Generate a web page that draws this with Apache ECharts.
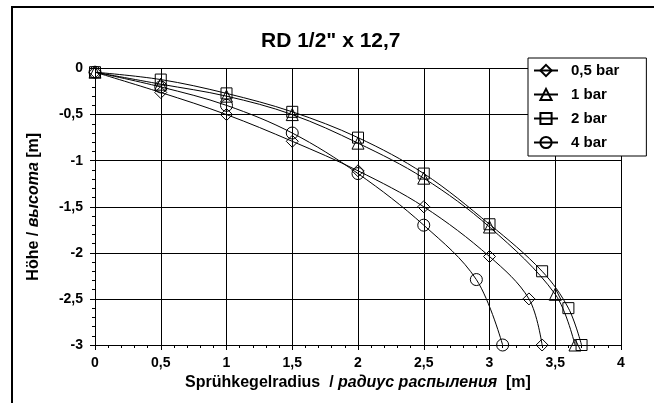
<!DOCTYPE html>
<html>
<head>
<meta charset="utf-8">
<script src="https://cdn.jsdelivr.net/npm/echarts@6/dist/echarts.min.js"></script>
<style>html,body{margin:0;padding:0;background:#fff;}#c{width:654px;height:403px;}</style>
</head>
<body>
<div id="c"></div>
<script>
const titleText = 'RD 1/2" x 12,7';
const seriesNames = ['0,5 bar', '1 bar', '2 bar', '4 bar'];
const radius05 = [0, 0.5, 1, 1.5, 2, 2.5, 3, 3.3, 3.4];
const height05 = [-0.04, -0.26, -0.5, -0.79, -1.11, -1.5, -2.04, -2.5, -3];
const radius1 = [0, 0.5, 1, 1.5, 2, 2.5, 3, 3.5, 3.65];
const height1 = [-0.04, -0.17, -0.3, -0.5, -0.81, -1.19, -1.72, -2.45, -3];
const radius2 = [0, 0.5, 1, 1.5, 2, 2.5, 3, 3.4, 3.6, 3.7];
const height2 = [-0.04, -0.12, -0.27, -0.47, -0.75, -1.14, -1.69, -2.2, -2.6, -3];
const radius4 = [0, 0.5, 1, 1.5, 2, 2.5, 2.9, 3.1];
const height4 = [-0.04, -0.2, -0.4, -0.7, -1.14, -1.7, -2.29, -3];

const symbols = ['diamond', 'triangle', 'rect', 'circle'];
const symbolSizes = [12, 12, 11, 12];
const radii = [radius05, radius1, radius2, radius4];
const heights = [height05, height1, height2, height4];

function pairs(xs, ys) { return xs.map((x, i) => [x, ys[i]]); }
function fmt(v) { return String(v).replace('.', ','); }

const FONT = '"Liberation Sans", Arial, sans-serif';
const chart = echarts.init(document.getElementById('c'), null, { renderer: 'canvas' });

const series = seriesNames.map((name, k) => ({
  name: name,
  type: 'line',
  data: pairs(radii[k], heights[k]),
  smooth: 0.35,
  symbol: symbols[k],
  symbolSize: symbolSizes[k],
  showAllSymbol: true,
  lineStyle: { color: '#000', width: 1 },
  itemStyle: { color: 'rgba(255,255,255,0)', borderColor: '#000', borderWidth: 1 },
  emphasis: { disabled: true },
  z: 3 + k
}));

chart.setOption({
  animation: false,
  backgroundColor: '#fff',
  textStyle: { fontFamily: FONT },
  graphic: [
    { type: 'rect', shape: { x: 12, y: 7, width: 700, height: 450 }, style: { fill: 'none', stroke: '#000', lineWidth: 2 }, z: 0, silent: true },
    { type: 'text', left: 261, top: 31, style: { text: titleText, font: 'bold 21px ' + FONT, fill: '#000' }, silent: true }
  ],
  grid: { left: 95, top: 68.5, right: 33, bottom: 58, containLabel: false },
  legend: {
    orient: 'vertical',
    left: 528, top: 58,
    backgroundColor: '#fff',
    borderColor: '#000', borderWidth: 1, borderRadius: 0,
    padding: [5, 27, 6, 5],
    itemGap: 9, itemWidth: 24, itemHeight: 14,
    textStyle: { fontFamily: FONT, fontWeight: 'bold', fontSize: 15, color: '#000', padding: [0, 0, 0, 8] },
    data: seriesNames,
    z: 10
  },
  xAxis: {
    type: 'value', min: 0, max: 4, interval: 0.5,
    name: '{a|Sprühkegelradius  / }{b|радиус распыления}{a|  [m]}',
    nameLocation: 'middle', nameGap: 27,
    nameTextStyle: {
      rich: {
        a: { fontFamily: FONT, fontWeight: 'bold', fontSize: 16, color: '#000' },
        b: { fontFamily: FONT, fontWeight: 'bold', fontStyle: 'italic', fontSize: 16, color: '#000' }
      }
    },
    axisLine: { show: true, onZero: false, lineStyle: { color: '#000', width: 1 } },
    axisTick: { show: true, inside: false, length: 5, lineStyle: { color: '#000' } },
    minorTick: { show: true, splitNumber: 5, length: 3, lineStyle: { color: '#000' } },
    splitLine: { show: true, lineStyle: { color: '#000', width: 1 } },
    axisLabel: { formatter: fmt, fontFamily: FONT, fontWeight: 'bold', fontSize: 14, color: '#000', margin: 11 }
  },
  yAxis: {
    type: 'value', min: -3, max: 0, interval: 0.5,
    name: '{a|Höhe / }{b|высота}{a| [m]}',
    nameLocation: 'middle', nameRotate: 90, nameGap: 53,
    nameTextStyle: {
      rich: {
        a: { fontFamily: FONT, fontWeight: 'bold', fontSize: 16, color: '#000' },
        b: { fontFamily: FONT, fontWeight: 'bold', fontStyle: 'italic', fontSize: 16, color: '#000' }
      }
    },
    axisLine: { show: true, onZero: false, lineStyle: { color: '#000', width: 1 } },
    axisTick: { show: true, inside: false, length: 5, lineStyle: { color: '#000' } },
    minorTick: { show: true, splitNumber: 5, length: 3, lineStyle: { color: '#000' } },
    splitLine: { show: true, lineStyle: { color: '#000', width: 1 } },
    axisLabel: { formatter: fmt, fontFamily: FONT, fontWeight: 'bold', fontSize: 14, color: '#000', margin: 12 }
  },
  series: series
});
</script>
</body>
</html>
